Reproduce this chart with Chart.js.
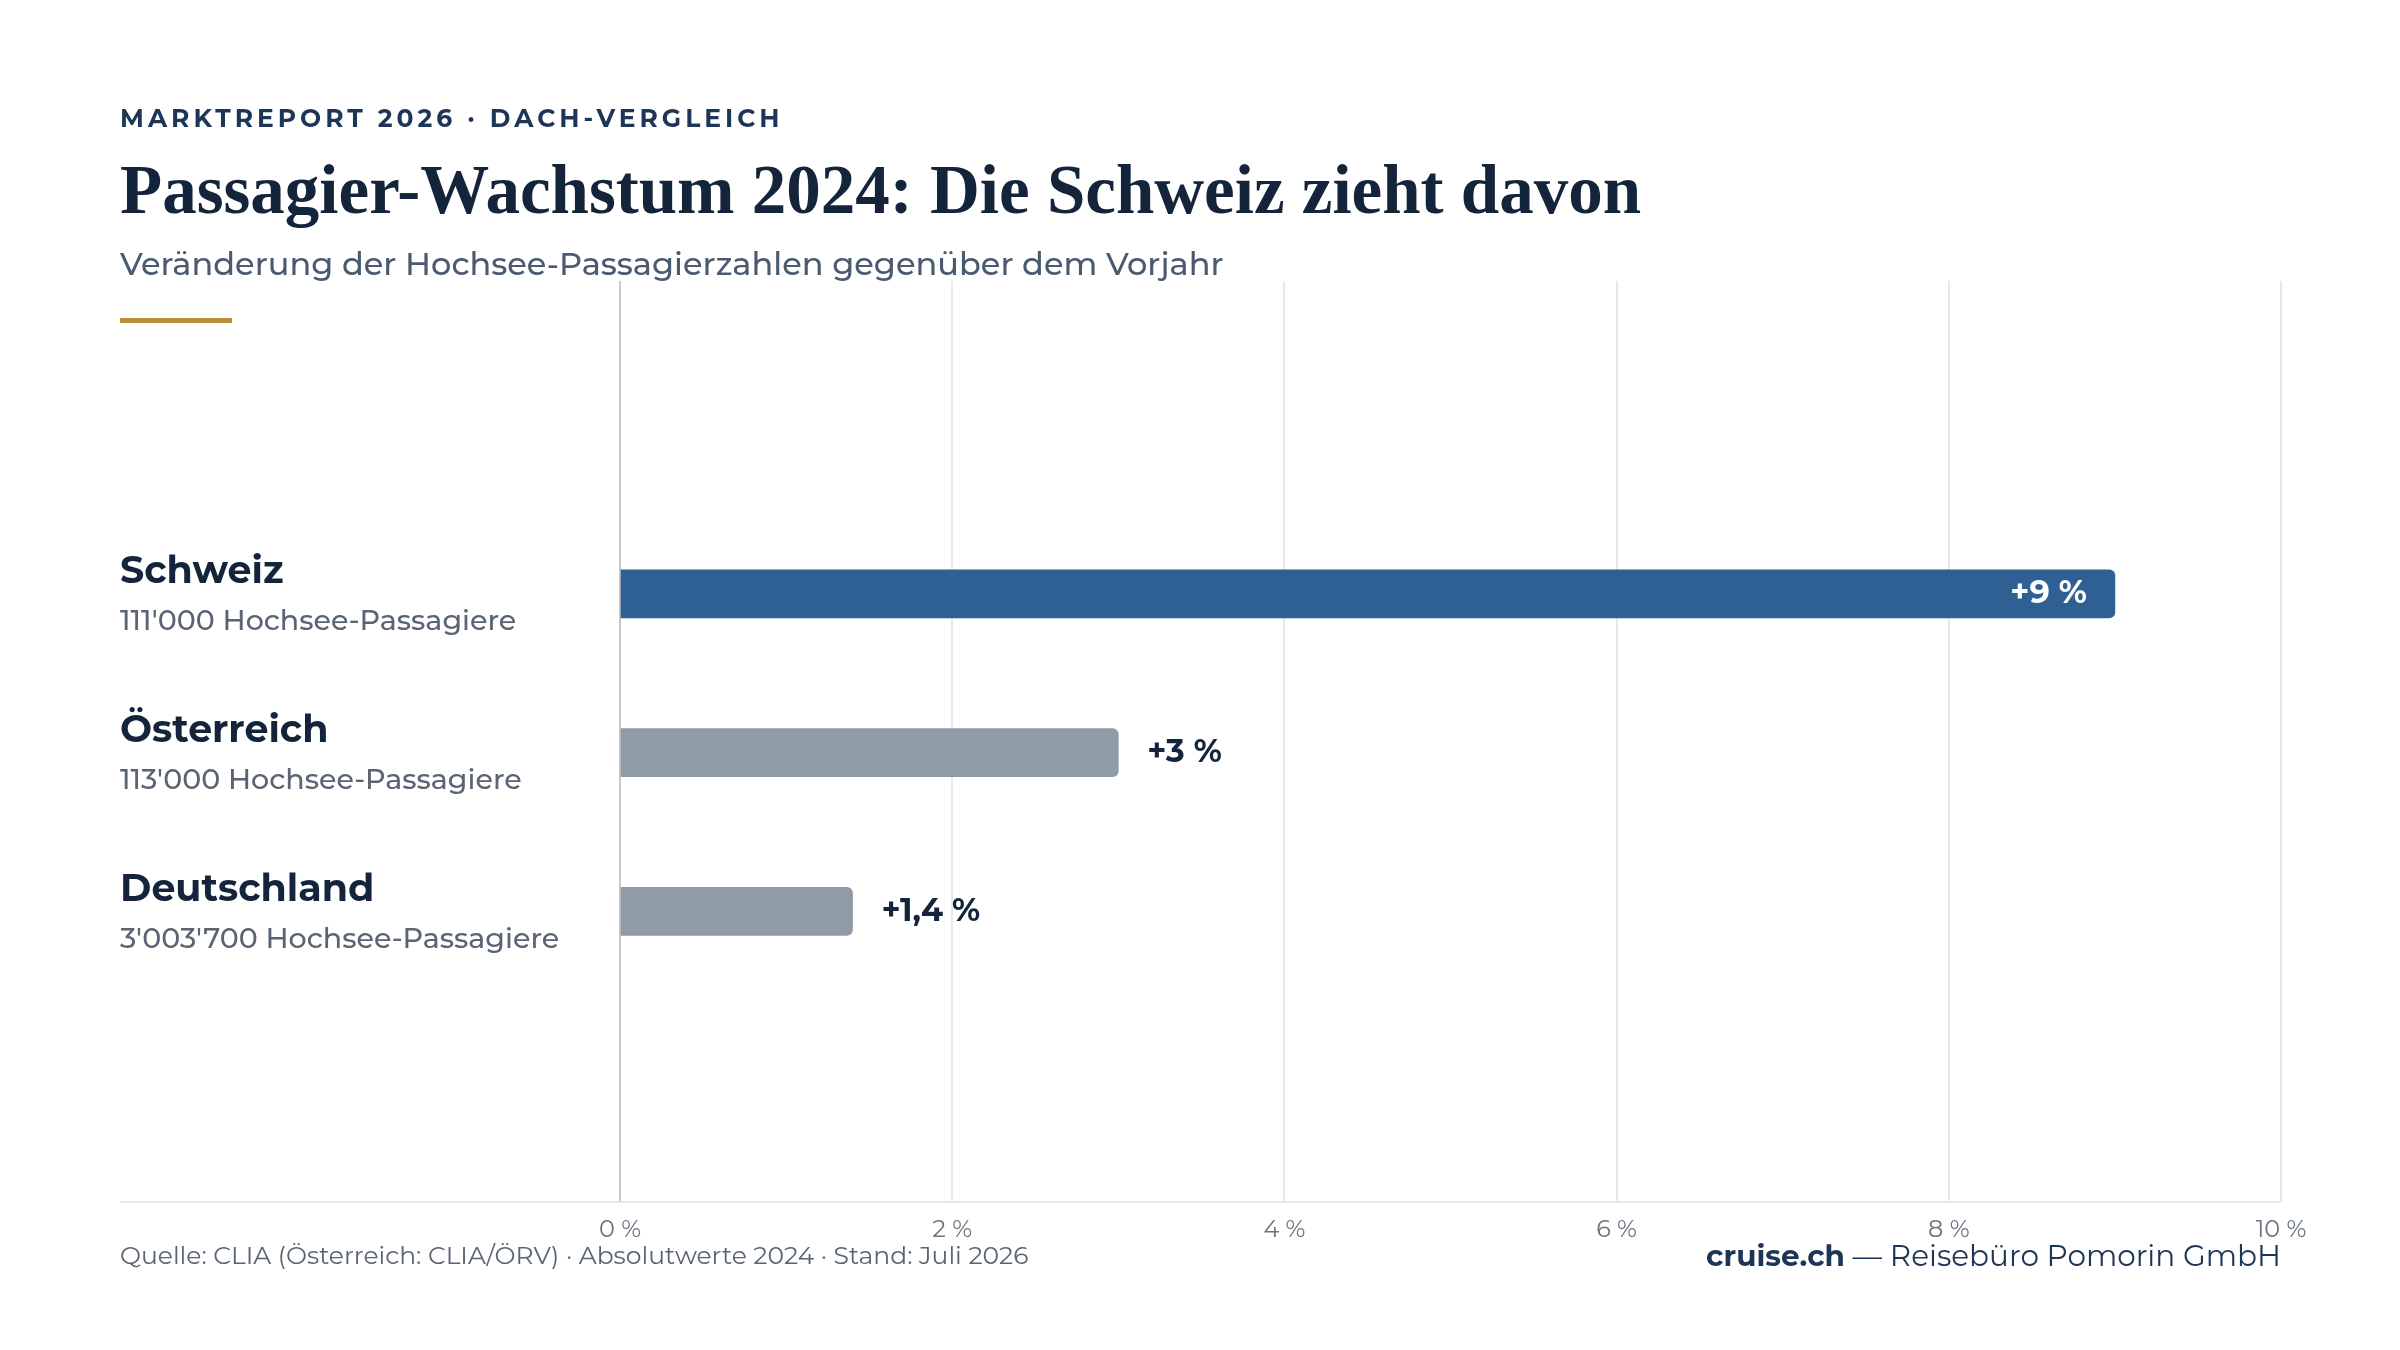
<!DOCTYPE html>
<html><head><meta charset="utf-8">
<script src="https://cdn.jsdelivr.net/npm/chart.js@4/dist/chart.umd.min.js"></script>
<style>html,body{margin:0;padding:0;background:#fff}</style>
</head><body>
<canvas id="c" width="2400" height="1350"></canvas>
<script>
const countries = ['Schweiz', 'Österreich', 'Deutschland'];
const growth = [9, 3, 1.4];
const valueLabels = ['+9 %', '+3 %', '+1,4 %'];
const passengerLabels = ["111'000 Hochsee-Passagiere", "113'000 Hochsee-Passagiere", "3'003'700 Hochsee-Passagiere"];
const barColors = ['#2e6093', '#8f9ba7', '#8f9ba7'];
const xTicks = [0, 2, 4, 6, 8, 10];

const F = '"Montserrat", "Inter", "Open Sans", sans-serif';
const Y_MIN = -1.97, Y_MAX = 3.83;
const textPlugin = {
  id: 'texts',
  afterDraw(chart) {
    const ctx = chart.ctx, x = chart.scales.x, y = chart.scales.y;
    ctx.save();
    ctx.textBaseline = 'middle';
    ctx.fillStyle = '#1d3557';
    ctx.font = 'bold 25px ' + F;
    ctx.letterSpacing = '4px';
    ctx.fillText('MARKTREPORT 2026 · DACH-VERGLEICH', 120, 120);
    ctx.letterSpacing = '0px';
    ctx.fillStyle = '#14243a';
    ctx.font = 'bold 69px "Liberation Serif", "DejaVu Serif", serif';
    ctx.fillText('Passagier-Wachstum 2024: Die Schweiz zieht davon', 120, 195);
    ctx.fillStyle = '#4a5a70';
    ctx.font = '500 32px ' + F;
    ctx.fillText('Veränderung der Hochsee-Passagierzahlen gegenüber dem Vorjahr', 120, 266);
    ctx.fillStyle = '#b8903a';
    ctx.fillRect(120, 318, 112, 5);
    countries.forEach((c, i) => {
      const py = y.getPixelForValue(i);
      ctx.fillStyle = '#14243a';
      ctx.font = 'bold 38px ' + F;
      ctx.fillText(c, 120, py - 22);
      ctx.fillStyle = '#5a6472';
      ctx.font = '500 28.5px ' + F;
      ctx.fillText(passengerLabels[i], 120, py + 28);
      const px = x.getPixelForValue(growth[i]);
      ctx.font = 'bold 32px ' + F;
      if (i === 0) { ctx.fillStyle = '#fff'; ctx.textAlign = 'right'; ctx.fillText(valueLabels[i], px - 28, py); }
      else { ctx.fillStyle = '#14243a'; ctx.textAlign = 'left'; ctx.fillText(valueLabels[i], px + 29, py); }
      ctx.textAlign = 'left';
    });
    ctx.fillStyle = '#5a6472';
    ctx.font = '25px ' + F;
    ctx.fillText('Quelle: CLIA (Österreich: CLIA/ÖRV) · Absolutwerte 2024 · Stand: Juli 2026', 120, 1257);
    ctx.textAlign = 'right';
    ctx.font = '29.5px ' + F;
    ctx.fillStyle = '#1d3557';
    const rest = ' — Reisebüro Pomorin GmbH';
    ctx.fillText(rest, 2281, 1257);
    const w = ctx.measureText(rest).width;
    ctx.font = 'bold 29.5px ' + F;
    ctx.fillText('cruise.ch', 2281 - w, 1257);
    ctx.restore();
  }
};

new Chart(document.getElementById('c'), {
  type: 'bar',
  data: {
    datasets: [{
      data: countries.map((c, i) => ({ x: growth[i], y: i })),
      backgroundColor: barColors,
      barThickness: 48,
      borderRadius: { topRight: 6, bottomRight: 6, topLeft: 0, bottomLeft: 0 },
      borderSkipped: 'left'
    }]
  },
  options: {
    indexAxis: 'y',
    responsive: false,
    animation: false,
    devicePixelRatio: 1,
    layout: { padding: { left: 620, right: 119, top: 281, bottom: 98 } },
    plugins: { legend: { display: false }, tooltip: { enabled: false } },
    scales: {
      x: {
        type: 'linear', min: 0, max: 10,
        afterBuildTicks: s => { s.ticks = xTicks.map(v => ({ value: v })); },
        afterFit: s => { s.height = 50; },
        ticks: { callback: v => v + ' %', color: '#6b7480', font: { size: 24, family: F }, padding: 14, maxRotation: 0 },
        grid: { color: ctx => ctx.tick && ctx.tick.value === 0 ? '#c8c8c8' : '#e8e8e8', lineWidth: 2, drawTicks: false },
        border: { display: false }
      },
      y: {
        type: 'linear', reverse: true, bounds: 'data',
        display: false,
        afterDataLimits: s => { s.min = Y_MIN; s.max = Y_MAX; },
        afterBuildTicks: s => { s.ticks = []; },
        afterFit: s => { s.width = 0; }
      }
    }
  },
  plugins: [textPlugin, {
    id: 'baseline',
    beforeDatasetsDraw(chart) {
      const ctx = chart.ctx, a = chart.chartArea;
      ctx.save(); ctx.strokeStyle = '#e8e8e8'; ctx.lineWidth = 2;
      ctx.beginPath(); ctx.moveTo(120, a.bottom); ctx.lineTo(a.right, a.bottom); ctx.stroke(); ctx.restore();
    }
  }]
});
</script>
</body></html>
